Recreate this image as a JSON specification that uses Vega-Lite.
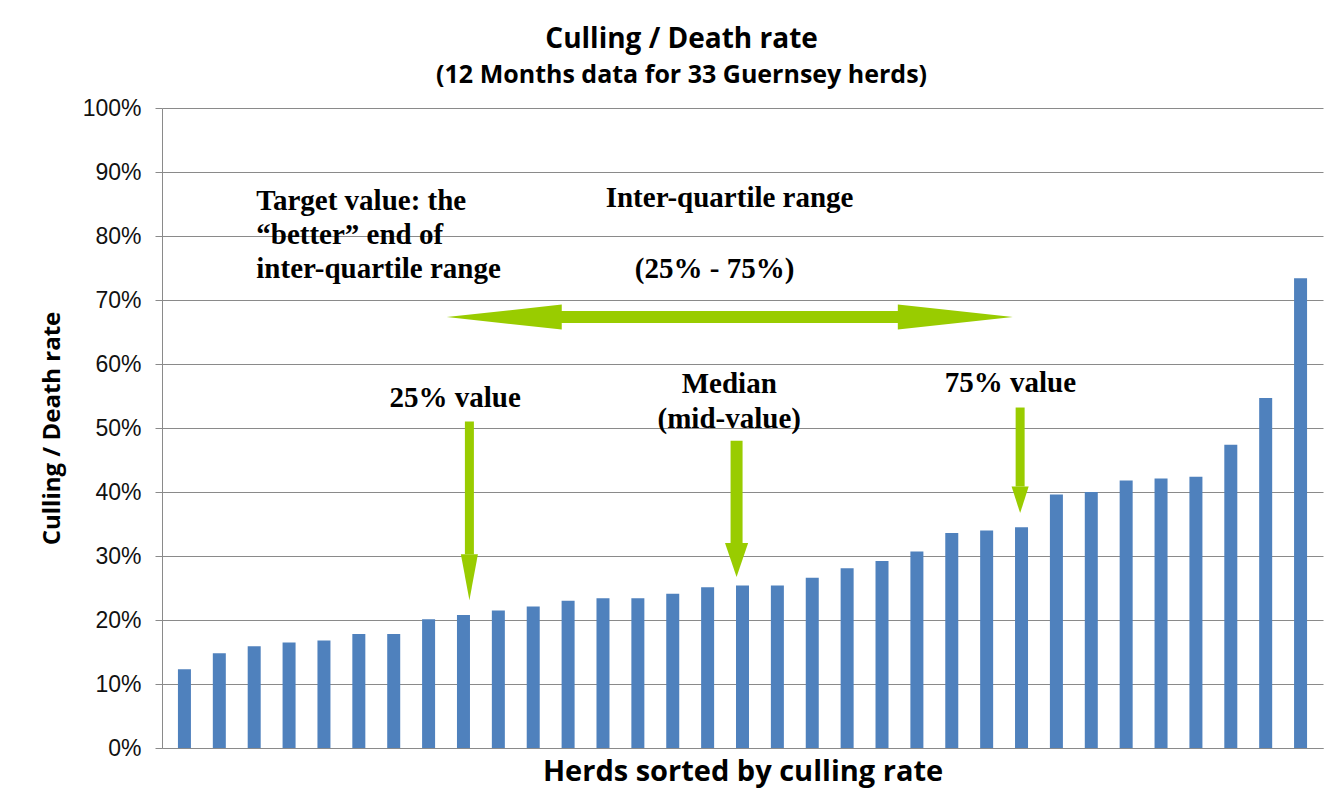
{
  "$schema": "https://vega.github.io/schema/vega-lite/v6.json",
  "width": 1161,
  "height": 640,
  "autosize": {"type": "none"},
  "padding": {"left": 162, "top": 108, "right": 13, "bottom": 52},
  "background": "white",
  "title": {
    "text": "Culling / Death rate",
    "subtitle": "(12 Months data for 33 Guernsey herds)",
    "frame": "bounds",
    "anchor": "middle",
    "font": "Open Sans",
    "fontSize": 28,
    "fontWeight": "bold",
    "color": "#000000",
    "subtitleFont": "Open Sans",
    "subtitleFontSize": 25,
    "subtitleFontWeight": "bold",
    "subtitleColor": "#000000",
    "subtitlePadding": 9,
    "offset": 9
  },
  "datasets": {
    "herds": [
      {"herd": 1, "rate": 12.3}, {"herd": 2, "rate": 14.8}, {"herd": 3, "rate": 15.9},
      {"herd": 4, "rate": 16.5}, {"herd": 5, "rate": 16.8}, {"herd": 6, "rate": 17.8},
      {"herd": 7, "rate": 17.8}, {"herd": 8, "rate": 20.1}, {"herd": 9, "rate": 20.8},
      {"herd": 10, "rate": 21.5}, {"herd": 11, "rate": 22.1}, {"herd": 12, "rate": 23.0},
      {"herd": 13, "rate": 23.4}, {"herd": 14, "rate": 23.4}, {"herd": 15, "rate": 24.1},
      {"herd": 16, "rate": 25.1}, {"herd": 17, "rate": 25.4}, {"herd": 18, "rate": 25.4},
      {"herd": 19, "rate": 26.6}, {"herd": 20, "rate": 28.1}, {"herd": 21, "rate": 29.2},
      {"herd": 22, "rate": 30.7}, {"herd": 23, "rate": 33.6}, {"herd": 24, "rate": 34.0},
      {"herd": 25, "rate": 34.5}, {"herd": 26, "rate": 39.6}, {"herd": 27, "rate": 40.0},
      {"herd": 28, "rate": 41.8}, {"herd": 29, "rate": 42.1}, {"herd": 30, "rate": 42.4},
      {"herd": 31, "rate": 47.4}, {"herd": 32, "rate": 54.7}, {"herd": 33, "rate": 73.4}
    ],
    "hshaft": [{"x": 11.78, "x2": 21.5, "y": 67.34}],
    "vshafts": [
      {"arrow": "q25", "x": 9.17, "top": 51.0, "base": 30.27},
      {"arrow": "median", "x": 16.83, "top": 48.0, "base": 32.0},
      {"arrow": "q75", "x": 24.96, "top": 53.2, "base": 40.86}
    ],
    "heads": [
      {"arrow": "iqr_left", "x": 8.52, "y": 67.34},
      {"arrow": "iqr_right", "x": 24.75, "y": 67.34},
      {"arrow": "q25", "x": 9.17, "y": 23.1},
      {"arrow": "median", "x": 16.83, "y": 26.73},
      {"arrow": "q75", "x": 24.96, "y": 36.7}
    ],
    "leftLabels": [
      {"label": "Target value: the\n“better” end of\ninter-quartile range", "x": 3.06, "y": 85.4}
    ],
    "centerLabels": [
      {"label": "Inter-quartile range", "x": 16.63, "y": 85.9},
      {"label": "(25% - 75%)", "x": 16.2, "y": 74.8},
      {"label": "25% value", "x": 8.76, "y": 54.7},
      {"label": "Median\n(mid-value)", "x": 16.62, "y": 56.9},
      {"label": "75% value", "x": 24.68, "y": 57.0}
    ]
  },
  "layer": [
    {
      "data": {"name": "herds"},
      "mark": {"type": "bar", "size": 13, "color": "#4F81BD"},
      "encoding": {
        "x": {"field": "herd", "type": "quantitative", "title": "Herds sorted by culling rate",
              "scale": {"domain": [0.5, 33.5], "nice": false, "zero": false}},
        "y": {"field": "rate", "type": "quantitative", "title": "Culling / Death rate",
              "scale": {"domain": [0, 100], "nice": false},
              "axis": {"values": [0, 10, 20, 30, 40, 50, 60, 70, 80, 90, 100], "labelExpr": "datum.value + '%'"}}
      }
    },
    {
      "data": {"name": "hshaft"},
      "mark": {"type": "rule", "color": "#99CC00", "strokeWidth": 12, "strokeCap": "butt"},
      "encoding": {
        "x": {"field": "x", "type": "quantitative", "title": "Herds sorted by culling rate"},
        "x2": {"field": "x2"},
        "y": {"field": "y", "type": "quantitative", "title": "Culling / Death rate"}
      }
    },
    {
      "data": {"name": "vshafts"},
      "transform": [{"filter": "datum.arrow != 'median'"}],
      "mark": {"type": "rule", "color": "#99CC00", "strokeWidth": 9, "strokeCap": "butt"},
      "encoding": {
        "x": {"field": "x", "type": "quantitative", "title": "Herds sorted by culling rate"},
        "y": {"field": "top", "type": "quantitative", "title": "Culling / Death rate"},
        "y2": {"field": "base"}
      }
    },
    {
      "data": {"name": "vshafts"},
      "transform": [{"filter": "datum.arrow == 'median'"}],
      "mark": {"type": "rule", "color": "#99CC00", "strokeWidth": 12, "strokeCap": "butt"},
      "encoding": {
        "x": {"field": "x", "type": "quantitative", "title": "Herds sorted by culling rate"},
        "y": {"field": "top", "type": "quantitative", "title": "Culling / Death rate"},
        "y2": {"field": "base"}
      }
    },
    {
      "data": {"name": "heads"},
      "transform": [{"filter": "datum.arrow == 'iqr_left'"}],
      "mark": {"type": "point", "filled": true, "color": "#99CC00", "opacity": 1, "strokeWidth": 0,
               "shape": "M 0 0 L 2 -0.217 L 2 0.217 Z", "size": 13225},
      "encoding": {
        "x": {"field": "x", "type": "quantitative", "title": "Herds sorted by culling rate"},
        "y": {"field": "y", "type": "quantitative", "title": "Culling / Death rate"}
      }
    },
    {
      "data": {"name": "heads"},
      "transform": [{"filter": "datum.arrow == 'iqr_right'"}],
      "mark": {"type": "point", "filled": true, "color": "#99CC00", "opacity": 1, "strokeWidth": 0,
               "shape": "M 0 0 L -2 -0.217 L -2 0.217 Z", "size": 13225},
      "encoding": {
        "x": {"field": "x", "type": "quantitative", "title": "Herds sorted by culling rate"},
        "y": {"field": "y", "type": "quantitative", "title": "Culling / Death rate"}
      }
    },
    {
      "data": {"name": "heads"},
      "transform": [{"filter": "datum.arrow == 'q25'"}],
      "mark": {"type": "point", "filled": true, "color": "#99CC00", "opacity": 1, "strokeWidth": 0,
               "shape": "M -0.37 -2 L 0.37 -2 L 0 0 Z", "size": 2116},
      "encoding": {
        "x": {"field": "x", "type": "quantitative", "title": "Herds sorted by culling rate"},
        "y": {"field": "y", "type": "quantitative", "title": "Culling / Death rate"}
      }
    },
    {
      "data": {"name": "heads"},
      "transform": [{"filter": "datum.arrow == 'median'"}],
      "mark": {"type": "point", "filled": true, "color": "#99CC00", "opacity": 1, "strokeWidth": 0,
               "shape": "M -0.68 -2 L 0.68 -2 L 0 0 Z", "size": 1156},
      "encoding": {
        "x": {"field": "x", "type": "quantitative", "title": "Herds sorted by culling rate"},
        "y": {"field": "y", "type": "quantitative", "title": "Culling / Death rate"}
      }
    },
    {
      "data": {"name": "heads"},
      "transform": [{"filter": "datum.arrow == 'q75'"}],
      "mark": {"type": "point", "filled": true, "color": "#99CC00", "opacity": 1, "strokeWidth": 0,
               "shape": "M -0.64 -2 L 0.64 -2 L 0 0 Z", "size": 713},
      "encoding": {
        "x": {"field": "x", "type": "quantitative", "title": "Herds sorted by culling rate"},
        "y": {"field": "y", "type": "quantitative", "title": "Culling / Death rate"}
      }
    },
    {
      "data": {"name": "leftLabels"},
      "mark": {"type": "text", "align": "left", "baseline": "middle", "lineBreak": "\n", "lineHeight": 34,
               "font": "Liberation Serif", "fontWeight": "bold", "fontSize": 29, "color": "#000000"},
      "encoding": {
        "x": {"field": "x", "type": "quantitative", "title": "Herds sorted by culling rate"},
        "y": {"field": "y", "type": "quantitative", "title": "Culling / Death rate"},
        "text": {"field": "label"}
      }
    },
    {
      "data": {"name": "centerLabels"},
      "mark": {"type": "text", "align": "center", "baseline": "middle", "lineBreak": "\n", "lineHeight": 35,
               "font": "Liberation Serif", "fontWeight": "bold", "fontSize": 29, "color": "#000000"},
      "encoding": {
        "x": {"field": "x", "type": "quantitative", "title": "Herds sorted by culling rate"},
        "y": {"field": "y", "type": "quantitative", "title": "Culling / Death rate"},
        "text": {"field": "label"}
      }
    }
  ],
  "config": {
    "view": {"stroke": null},
    "axisY": {
      "grid": true, "gridColor": "#8a8a8a", "gridWidth": 1, "gridOpacity": 1,
      "domainColor": "#8a8a8a", "tickColor": "#8a8a8a", "tickSize": 7,
      "labelFont": "Liberation Sans", "labelFontSize": 23, "labelColor": "#111111", "labelPadding": 14,
      "titleFont": "Open Sans", "titleFontSize": 24, "titleFontWeight": "bold", "titleColor": "#000000",
      "titlePadding": 18
    },
    "axisX": {
      "grid": false, "ticks": false, "labels": false,
      "domainColor": "#8a8a8a",
      "titleFont": "Open Sans", "titleFontSize": 29, "titleFontWeight": "bold", "titleColor": "#000000",
      "titlePadding": 9
    }
  }
}
